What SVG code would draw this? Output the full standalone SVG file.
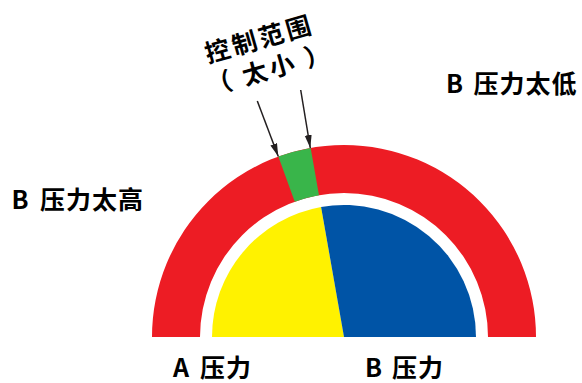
<svg xmlns="http://www.w3.org/2000/svg" width="582" height="383" viewBox="0 0 582 383">
  <style>
    .lbl { font-family: "Noto Sans CJK SC", "Noto Sans", sans-serif; font-weight: 700; font-size: 25px; fill: #000; letter-spacing: 1px; }
    .ttl { font-family: "Noto Sans CJK SC", "Noto Sans", sans-serif; font-weight: 700; font-size: 25px; fill: #000; letter-spacing: 3px; }
    .arrow { stroke: #231F20; stroke-width: 1.5; fill: none; marker-end: url(#ah); }
  </style>
  <defs>
    <marker id="ah" markerUnits="userSpaceOnUse" markerWidth="14" markerHeight="8" refX="13" refY="3.5" orient="auto">
      <path d="M0,0 L13,3.5 L0,7 Z" fill="#231F20"/>
    </marker>
    <path id="tl1" d="M207.98 63.15 L400.24 8.03"/>
    <path id="tl2" d="M209.99 95.55 L402.25 40.43"/>
  </defs>
  <rect width="582" height="383" fill="#fff"/>

  <g id="red-band">
    <path d="M152 337 A192 192 0 0 1 536 337 L488 337 A144 144 0 0 0 200 337 Z" fill="#ED1C24"/>
  </g>
  <g id="control-range">
    <path d="M278.33 156.58 A192 192 0 0 1 310.66 147.92 L318.99 195.19 A144 144 0 0 0 294.75 201.68 Z" fill="#39B54A"/>
  </g>
  <g id="a-pressure">
    <path d="M344 337 L212 337 A132 132 0 0 1 321.08 207 Z" fill="#FFF200"/>
  </g>
  <g id="b-pressure">
    <path d="M344 337 L321.08 207 A132 132 0 0 1 476 337 Z" fill="#0054A6"/>
  </g>

  <g id="connectors">
    <line class="arrow" x1="257.3" y1="101" x2="278.3" y2="156.4"/>
    <line class="arrow" x1="300.7" y1="90" x2="310.3" y2="148"/>
  </g>

  <g id="title">
    <text class="ttl"><textPath href="#tl1">控制范围</textPath></text>
    <text class="ttl"><textPath href="#tl2">（ 太小 ）</textPath></text>
  </g>

  <g id="label-b-low">
    <text class="lbl" y="93"><tspan x="446">B</tspan><tspan x="473.5">压力太低</tspan></text>
  </g>
  <g id="label-b-high">
    <text class="lbl" y="209"><tspan x="11.5">B</tspan><tspan x="40">压力太高</tspan></text>
  </g>
  <g id="label-a">
    <text class="lbl" y="377"><tspan x="173">A</tspan><tspan x="200">压力</tspan></text>
  </g>
  <g id="label-b">
    <text class="lbl" y="377"><tspan x="365">B</tspan><tspan x="392">压力</tspan></text>
  </g>
</svg>
